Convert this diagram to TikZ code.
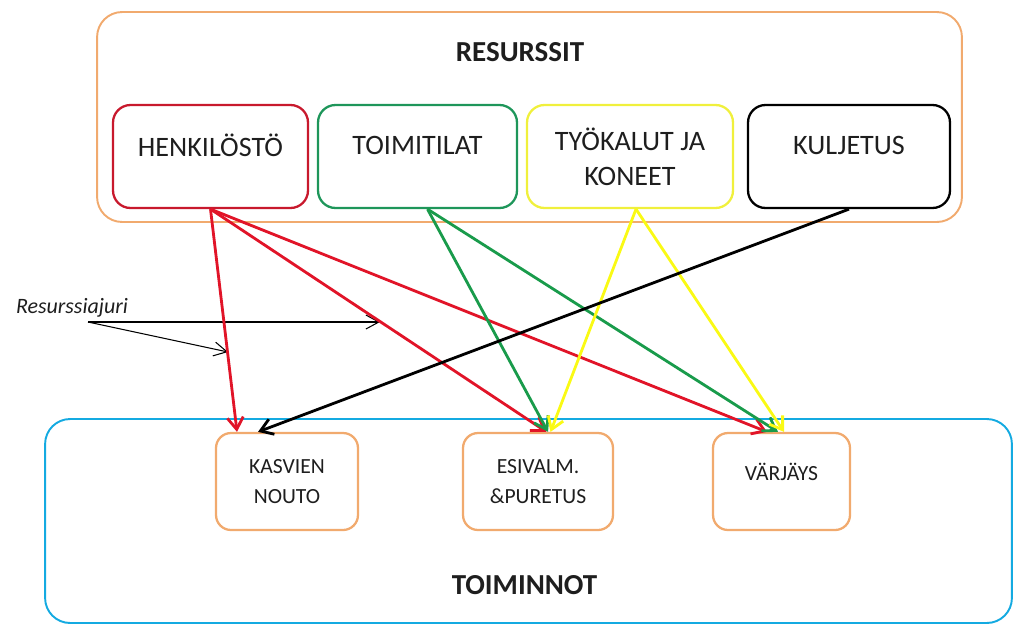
\documentclass[tikz,border=0pt]{standalone}
\usepackage{fontspec}
\setmainfont{Carlito}
\usepackage{tikz}
\usetikzlibrary{arrows,arrows.meta}

\definecolor{reuna}{RGB}{241,170,110}
\definecolor{syaani}{RGB}{20,170,225}
\definecolor{puna}{RGB}{200,25,45}
\definecolor{vihrea}{RGB}{30,150,90}
\definecolor{keltainen}{RGB}{240,240,60}
\definecolor{teksti}{RGB}{30,30,30}
\definecolor{punanuoli}{RGB}{225,20,40}
\definecolor{vihreanuoli}{RGB}{25,155,75}
\definecolor{keltanuoli}{RGB}{250,250,20}

\begin{document}
\begin{tikzpicture}[x=0.02cm, y=-0.02cm, >={Straight Barb[length=2.4mm, width=3.2mm]}]
			\tikzstyle{ryhma} = [draw, line width=1.1pt, rounded corners=0.5cm, inner sep=0pt]
			\tikzstyle{resurssi} = [draw, line width=1.3pt, rounded corners=0.35cm, minimum height=2.06cm, align=center, text=teksti, font=\fontsize{16}{20}\selectfont]
			\tikzstyle{toiminto} = [draw=reuna, line width=1.3pt, rounded corners=0.3cm, minimum height=1.94cm, align=center, text=teksti, font=\fontsize{12.3}{17}\selectfont]
			\tikzstyle{otsikko} = [text=teksti, font=\fontsize{16.5}{20}\selectfont\bfseries]
			\tikzstyle{nuoli} = [->, line width=1.6pt]
			\tikzstyle{ohut} = [-{Straight Barb[length=2.6mm, width=2.8mm]}, line width=0.6pt]
			\useasboundingbox (0,0) rectangle (1016,626);

			% ryhmat
			\node[ryhma, draw=reuna, minimum width=17.3cm, minimum height=4.2cm] (resurssit) at (529.5,117) {};
			\node[ryhma, draw=syaani, minimum width=19.34cm, minimum height=4.08cm] (toiminnot) at (528.5,521) {};
			\node[otsikko] (resotsikko) at (520,52) {RESURSSIT};
			\node[otsikko] (toiotsikko) at (524.5,585) {TOIMINNOT};

			% resurssit
			\node[resurssi, draw=puna, minimum width=3.9cm, text depth=0.45cm] (hen) at (210.5,156.5) {HENKILÖSTÖ};
			\node[resurssi, draw=vihrea, minimum width=3.98cm, text depth=0.45cm] (toi) at (417.5,156.5) {TOIMITILAT};
			\node[resurssi, draw=keltainen, minimum width=4.12cm] (tyo) at (630,156.5) {TYÖKALUT JA\\KONEET};
			\node[resurssi, draw=black, minimum width=4.04cm, text depth=0.45cm] (kul) at (849,156.5) {KULJETUS};

			% toiminnot
			\node[toiminto, minimum width=2.84cm] (kas) at (287,481.5) {KASVIEN\\NOUTO};
			\node[toiminto, minimum width=3.0cm] (esi) at (538,481.5) {ESIVALM.\\\&PURETUS};
			\node[toiminto, minimum width=2.74cm, text depth=0.4cm] (var) at (781.5,481.5) {VÄRJÄYS};

			% resurssiajuri
			\node[text=teksti, font=\fontsize{12.5}{15}\selectfont\itshape] (ajuri) at (72,308) {Resurssiajuri};
			\coordinate (ajurikanta) at (88,322);
			\coordinate (ajuri1) at (380,322);
			\coordinate (ajuri2) at (228,352);
			\draw[ohut] (ajurikanta) -- (ajuri1);
			\draw[ohut] (ajurikanta) -- (ajuri2);

			% nuolet
			\path[nuoli]
			(hen.south) edge[punanuoli] ([xshift=-1cm]kas.north)
			(hen.south) edge[punanuoli] ([xshift=0.17cm]esi.north)
			(hen.south) edge[punanuoli] ([xshift=-0.29cm]var.north)
			([xshift=0.2cm]toi.south) edge[vihreanuoli] ([xshift=0.2cm]esi.north)
			([xshift=0.2cm]toi.south) edge[vihreanuoli] ([xshift=-0.07cm]var.north)
			([xshift=0.12cm]tyo.south) edge[keltanuoli] ([xshift=0.25cm]esi.north)
			([xshift=0.12cm]tyo.south) edge[keltanuoli] ([xshift=0.05cm]var.north)
			(kul.south) edge[black] ([xshift=-0.58cm]kas.north)
			;
			\end{tikzpicture}
\end{document}
